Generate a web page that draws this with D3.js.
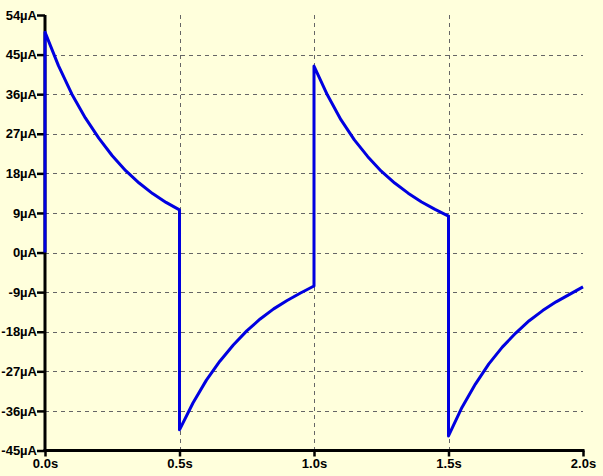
<!DOCTYPE html>
<html>
<head>
<meta charset="utf-8">
<script src="https://cdn.jsdelivr.net/npm/d3@7"></script>
<style>
  body { margin: 0; background: #ffffdc; }
  svg { display: block; }
</style>
</head>
<body>
<svg id="chart"></svg>
<script>
// Transient current (time in s, current in µA)
var times = [
  0, 0, 0.05, 0.10, 0.15, 0.20, 0.25, 0.30, 0.35, 0.40, 0.45, 0.50,
  0.50, 0.55, 0.60, 0.65, 0.70, 0.75, 0.80, 0.85, 0.90, 0.95, 1.00,
  1.00, 1.05, 1.10, 1.15, 1.20, 1.25, 1.30, 1.35, 1.40, 1.45, 1.50,
  1.50, 1.55, 1.60, 1.65, 1.70, 1.75, 1.80, 1.85, 1.90, 1.95, 2.00
];
var current = [
  0, 50.1, 42.5, 36.0, 30.6, 26.0, 22.0, 18.6, 15.8, 13.4, 11.4, 9.7,
  -40.3, -34.2, -29.0, -24.7, -21.0, -17.8, -15.1, -12.8, -10.9, -9.2, -7.6,
  42.4, 35.8, 30.2, 25.6, 21.8, 18.5, 15.8, 13.5, 11.5, 9.8, 8.3,
  -41.7, -35.2, -29.9, -25.3, -21.5, -18.3, -15.5, -13.2, -11.2, -9.5, -7.8
];
var xTicks = [0, 0.5, 1.0, 1.5, 2.0];
var xTickLabels = ["0.0s", "0.5s", "1.0s", "1.5s", "2.0s"];
var yTicks = [54, 45, 36, 27, 18, 9, 0, -9, -18, -27, -36, -45];
var yTickLabels = ["54µA", "45µA", "36µA", "27µA", "18µA", "9µA", "0µA",
                   "-9µA", "-18µA", "-27µA", "-36µA", "-45µA"];

var margin = { top: 15, right: 20, bottom: 26, left: 45 };
var fullW = 603, fullH = 476;
var width = 583 - margin.left;
var height = 450.5 - margin.top;

var svg = d3.select("#chart")
  .attr("width", fullW)
  .attr("height", fullH);

svg.append("rect")
  .attr("width", fullW)
  .attr("height", fullH)
  .attr("fill", "#ffffdc");

var g = svg.append("g")
  .attr("transform", "translate(" + margin.left + "," + margin.top + ")");

var x = d3.scaleLinear().domain([0, 2]).range([0, width]);
var y = d3.scaleLinear().domain([-45, 54]).range([height, 0]);

// dashed grid
g.append("g")
  .selectAll("line")
  .data(yTicks.filter(function(d) { return d !== 54 && d !== -45; }))
  .enter().append("line")
  .attr("x1", 0).attr("x2", width)
  .attr("y1", function(d) { return Math.round(y(d)) + 0.5; })
  .attr("y2", function(d) { return Math.round(y(d)) + 0.5; })
  .attr("stroke", "#666")
  .attr("stroke-width", 1)
  .attr("stroke-dasharray", "4,4");

g.append("g")
  .selectAll("line")
  .data(xTicks.filter(function(d) { return d !== 0 && d !== 2; }))
  .enter().append("line")
  .attr("x1", function(d) { return Math.round(x(d)) + 0.5; })
  .attr("x2", function(d) { return Math.round(x(d)) + 0.5; })
  .attr("y1", 0).attr("y2", height)
  .attr("stroke", "#666")
  .attr("stroke-width", 1)
  .attr("stroke-dasharray", "4,4");

// axes
var yAxis = d3.axisLeft(y)
  .tickValues(yTicks)
  .tickFormat(function(d, i) { return yTickLabels[i]; })
  .tickSize(8)
  .tickPadding(0);

var xAxis = d3.axisBottom(x)
  .tickValues(xTicks)
  .tickFormat(function(d, i) { return xTickLabels[i]; })
  .tickSize(6)
  .tickPadding(2);

var gx = g.append("g")
  .attr("transform", "translate(0," + height + ")")
  .call(xAxis);

var gy = g.append("g").call(yAxis);

[gx, gy].forEach(function(ax) {
  ax.select(".domain").remove();
  ax.selectAll(".tick line").attr("stroke", "#000").attr("stroke-width", 2.5);
  ax.selectAll(".tick text")
    .attr("fill", "#000")
    .style("font-family", "'Liberation Sans', Arial, sans-serif")
    .style("font-weight", "bold")
    .style("font-size", "13px");
});

// thick axis lines (left and bottom only)
g.append("line")
  .attr("x1", 0).attr("x2", 0)
  .attr("y1", 0).attr("y2", height + 1.5)
  .attr("stroke", "#000").attr("stroke-width", 3);
g.append("line")
  .attr("x1", -1.5).attr("x2", width + 1.5)
  .attr("y1", height).attr("y2", height)
  .attr("stroke", "#000").attr("stroke-width", 3);

// trace
var pts = times.map(function(t, i) { return [t, current[i]]; });
var line = d3.line()
  .x(function(d) { return x(d[0]); })
  .y(function(d) { return y(d[1]); });

g.append("path")
  .datum(pts)
  .attr("fill", "none")
  .attr("stroke", "#0000e0")
  .attr("stroke-width", 3)
  .attr("stroke-linejoin", "round")
  .attr("d", line);
</script>
</body>
</html>
